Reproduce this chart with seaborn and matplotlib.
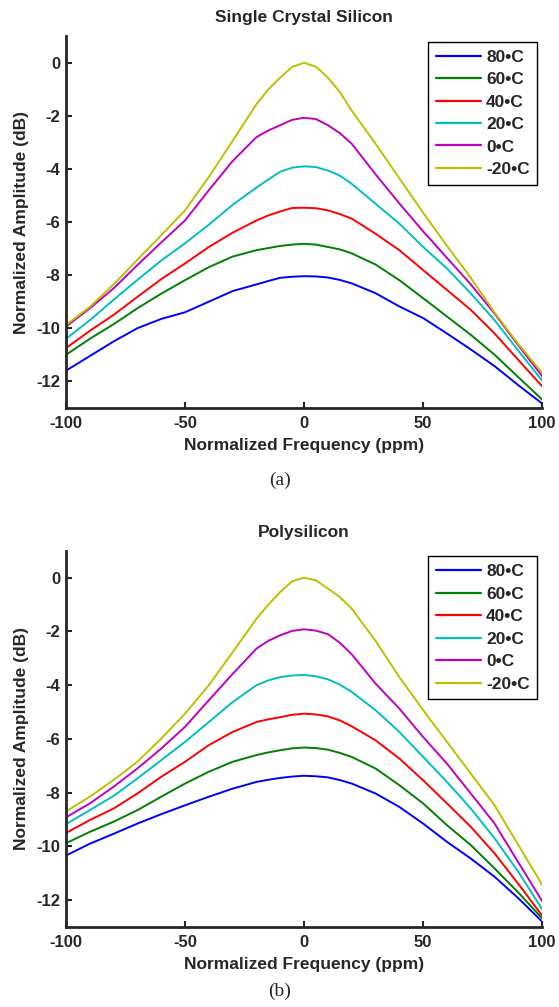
import numpy as np
import pandas as pd
import matplotlib
matplotlib.use("Agg")
import matplotlib.pyplot as plt
import seaborn as sns

# frequency offset (ppm)
freq = [-100, -90, -80, -70, -60, -50, -40, -30, -20, -15, -10, -5, 0, 5, 10, 15, 20, 30, 40, 50, 60, 70, 80, 90, 100]
temps = ['80\u2022C', '60\u2022C', '40\u2022C', '20\u2022C', '0\u2022C', '-20\u2022C']

# (a) single crystal silicon, normalized amplitude (dB)
sc_80 = [-11.6, -11.05, -10.5, -10.0, -9.65, -9.4, -9.0, -8.6, -8.35, -8.22, -8.1, -8.06, -8.04, -8.05, -8.09, -8.18, -8.31, -8.68, -9.18, -9.62, -10.2, -10.8, -11.43, -12.15, -12.84]
sc_60 = [-11.0, -10.4, -9.85, -9.25, -8.7, -8.19, -7.7, -7.3, -7.06, -6.98, -6.9, -6.85, -6.82, -6.85, -6.94, -7.03, -7.18, -7.6, -8.19, -8.87, -9.56, -10.25, -11.0, -11.85, -12.69]
sc_40 = [-10.75, -10.1, -9.5, -8.82, -8.15, -7.56, -6.94, -6.4, -5.94, -5.75, -5.6, -5.47, -5.46, -5.48, -5.56, -5.7, -5.87, -6.44, -7.06, -7.81, -8.56, -9.31, -10.2, -11.2, -12.19]
sc_20 = [-10.4, -9.7, -8.93, -8.18, -7.45, -6.8, -6.1, -5.35, -4.7, -4.4, -4.1, -3.95, -3.9, -3.93, -4.06, -4.25, -4.56, -5.31, -6.06, -6.94, -7.75, -8.69, -9.7, -10.85, -11.98]
sc_0 = [-9.94, -9.25, -8.5, -7.62, -6.77, -5.94, -4.8, -3.7, -2.8, -2.55, -2.35, -2.15, -2.07, -2.12, -2.35, -2.65, -3.05, -4.2, -5.3, -6.35, -7.35, -8.35, -9.45, -10.65, -11.81]
sc_m20 = [-9.88, -9.2, -8.35, -7.42, -6.5, -5.56, -4.3, -2.94, -1.56, -1.0, -0.56, -0.15, 0.0, -0.15, -0.56, -1.1, -1.8, -3.05, -4.35, -5.65, -6.9, -8.1, -9.41, -10.6, -11.69]

# (b) polysilicon
ps_80 = [-10.34, -9.9, -9.53, -9.15, -8.8, -8.47, -8.15, -7.85, -7.6, -7.52, -7.45, -7.4, -7.37, -7.39, -7.43, -7.53, -7.66, -8.03, -8.53, -9.15, -9.83, -10.45, -11.13, -11.93, -12.8]
ps_60 = [-9.88, -9.46, -9.08, -8.65, -8.15, -7.66, -7.22, -6.85, -6.6, -6.5, -6.42, -6.35, -6.32, -6.34, -6.4, -6.52, -6.67, -7.1, -7.72, -8.4, -9.21, -9.95, -10.82, -11.72, -12.68]
ps_40 = [-9.5, -9.02, -8.59, -8.03, -7.41, -6.85, -6.23, -5.74, -5.37, -5.27, -5.19, -5.1, -5.06, -5.09, -5.16, -5.31, -5.53, -6.05, -6.73, -7.54, -8.4, -9.27, -10.26, -11.4, -12.58]
ps_20 = [-9.17, -8.65, -8.12, -7.47, -6.79, -6.11, -5.37, -4.63, -4.0, -3.82, -3.7, -3.64, -3.62, -3.67, -3.78, -3.98, -4.25, -4.93, -5.74, -6.67, -7.6, -8.59, -9.7, -10.95, -12.34]
ps_0 = [-8.92, -8.4, -7.78, -7.1, -6.36, -5.55, -4.56, -3.58, -2.64, -2.35, -2.14, -1.98, -1.92, -1.97, -2.1, -2.42, -2.85, -3.94, -4.87, -5.93, -6.92, -8.03, -9.15, -10.6, -12.04]
ps_m20 = [-8.7, -8.15, -7.53, -6.85, -5.99, -5.06, -4.0, -2.77, -1.53, -1.0, -0.53, -0.13, 0.0, -0.1, -0.4, -0.72, -1.15, -2.35, -3.7, -4.93, -6.11, -7.29, -8.47, -9.95, -11.43]

colors = [(0, 0, 1), (0, 0.5, 0), (1, 0, 0), (0, 0.75, 0.75), (0.75, 0, 0.75), (0.75, 0.75, 0)]


def long_df(series):
    rows = []
    for t, vals in zip(temps, series):
        for f, v in zip(freq, vals):
            rows.append({'freq': f, 'amp': v, 'temp': t})
    return pd.DataFrame(rows)


sns.set_style("ticks")
plt.rcParams['font.family'] = ['Liberation Sans', 'DejaVu Sans']
plt.rcParams['font.weight'] = 'bold'
plt.rcParams['axes.labelweight'] = 'bold'
plt.rcParams['axes.titleweight'] = 'bold'

fig = plt.figure(figsize=(5.59, 10.07), dpi=100)
ax_a = fig.add_axes([0.118, 0.595, 0.852, 0.369])
ax_b = fig.add_axes([0.118, 0.0794, 0.852, 0.3736])

panels = [
    (ax_a, [sc_80, sc_60, sc_40, sc_20, sc_0, sc_m20], 'Single Crystal Silicon', '(a)', 0.514),
    (ax_b, [ps_80, ps_60, ps_40, ps_20, ps_0, ps_m20], 'Polysilicon', '(b)', 0.007),
]

for ax, series, title, cap, cap_y in panels:
    df = long_df(series)
    sns.lineplot(data=df, x='freq', y='amp', hue='temp', hue_order=temps,
                 palette=colors, linewidth=1.4, ax=ax, estimator=None)
    ax.set_xlim(-100, 100)
    ax.set_ylim(-13, 1)
    ax.set_xticks([-100, -50, 0, 50, 100])
    ax.set_yticks([0, -2, -4, -6, -8, -10, -12])
    ax.set_xticklabels(['-100', '-50', '0', '50', '100'])
    ax.set_yticklabels(['0', '-2', '-4', '-6', '-8', '-10', '-12'])
    ax.tick_params(direction='in', length=4, width=1.5, labelsize=12)
    ax.tick_params(axis='y', pad=4)
    ax.tick_params(axis='x', pad=6)
    for lab in ax.get_xticklabels() + ax.get_yticklabels():
        lab.set_fontweight('bold')
    for s in ['top', 'right']:
        ax.spines[s].set_visible(False)
    for s in ['left', 'bottom']:
        ax.spines[s].set_linewidth(2)
    ax.set_title(title, fontsize=12.5, fontweight='bold', pad=10)
    ax.set_xlabel('Normalized Frequency (ppm)', fontsize=12.5, fontweight='bold', labelpad=5)
    ax.set_ylabel('Normalized Amplitude (dB)', fontsize=12.5, fontweight='bold', labelpad=5)
    leg = ax.legend(loc='upper right', bbox_to_anchor=(0.99, 0.985), borderaxespad=0,
                    frameon=True, fancybox=False, edgecolor='black', framealpha=1,
                    handlelength=2.6, handletextpad=0.3, labelspacing=0.42,
                    borderpad=0.45, prop={'weight': 'bold', 'size': 12.5})
    leg.get_frame().set_linewidth(1.0)
    for line in leg.get_lines():
        line.set_linewidth(1.6)
    fig.text(0.5, cap_y, cap, ha='center', va='bottom', fontsize=14,
             family=['Liberation Serif', 'DejaVu Serif'], fontweight='normal')

fig.savefig('out.png', dpi=100)
